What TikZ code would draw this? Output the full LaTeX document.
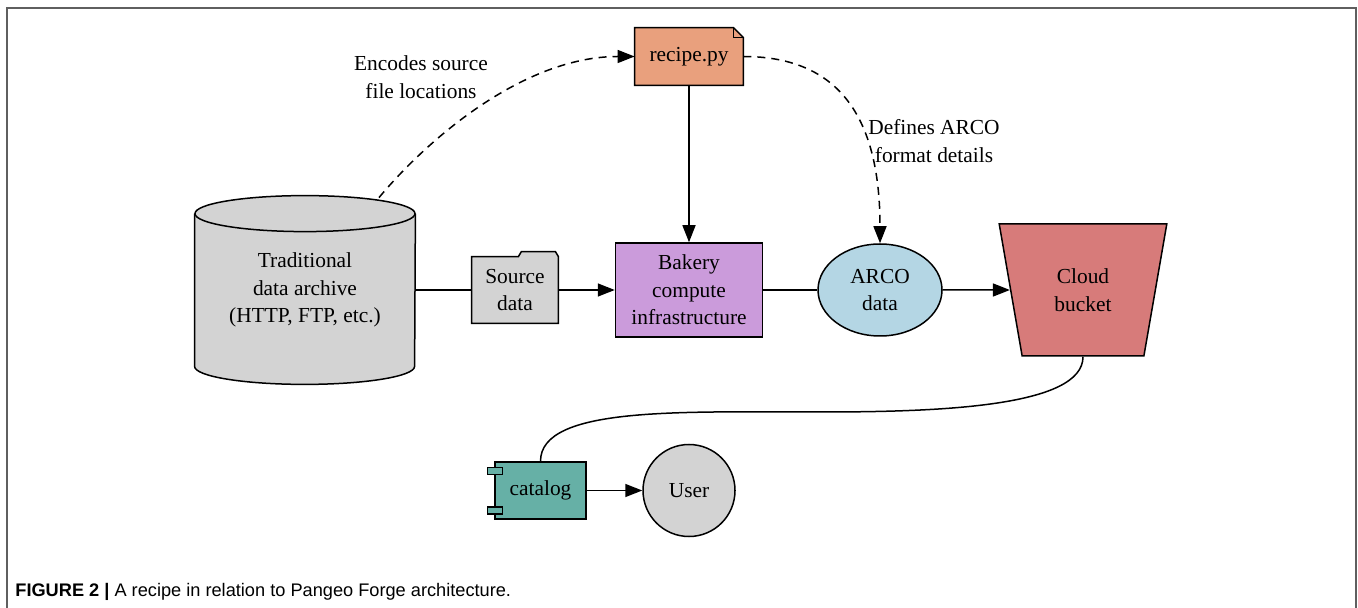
\documentclass[tikz,border=0pt]{standalone}
\usepackage{fontspec}
\setmainfont{Liberation Serif}
\newfontfamily\capfont{Liberation Sans}
\usepackage{tikz}
\usetikzlibrary{shapes.geometric, arrows.meta, positioning, calc, backgrounds}
\definecolor{mydark}{RGB}{0,0,0}
\definecolor{myframe}{RGB}{95,95,95}
\definecolor{hdrsalmon}{RGB}{233,160,125}
\definecolor{hdrplum}{RGB}{203,155,219}
\definecolor{hdrblue}{RGB}{180,214,228}
\definecolor{hdrred}{RGB}{215,123,122}
\definecolor{hdrteal}{RGB}{102,176,166}
\definecolor{hdrgray}{RGB}{211,211,211}
\tikzset{
  lbl/.style={align=center, inner sep=0pt},
  ghost/.style={rectangle, draw=none, align=center, inner sep=0pt},
  purpblock/.style={rectangle, draw=mydark, fill=hdrplum, align=center,
    minimum width=73.5pt, minimum height=47pt, line width=0.75pt},
  tealblock/.style={rectangle, draw=mydark, fill=hdrteal, align=center,
    minimum width=45.5pt, minimum height=28.5pt, line width=0.75pt},
  blueoval/.style={ellipse, draw=mydark, fill=hdrblue, align=center,
    minimum width=62pt, minimum height=46pt, inner sep=0pt, line width=0.75pt},
  graycirc/.style={circle, draw=mydark, fill=hdrgray,
    minimum size=46pt, inner sep=0pt, line width=0.75pt},
  redbucket/.style={trapezium, shape border rotate=180,
    trapezium left angle=75.8, trapezium right angle=75.8,
    trapezium stretches=true, minimum width=84pt, minimum height=66pt,
    draw=mydark, fill=hdrred, align=center, inner sep=0pt, line width=0.75pt},
  outline/.style={draw=mydark, line width=0.75pt},
  arrow/.style={-{Triangle[length=8.5pt, width=6.5pt]}, line width=0.75pt, color=mydark},
  dasharrow/.style={arrow, dash pattern=on 4pt off 3pt},
  line/.style={line width=0.75pt, color=mydark}
}

\begin{document}
\begin{tikzpicture}[x=0.5pt, y=-0.5pt, font=\fontsize{10.7}{13.7}\selectfont]
  \useasboundingbox (0,0) rectangle (1358,608);

  % frame, open at the bottom
  \draw[myframe, line width=1pt] (7,608) -- (7,8) -- (1356,8) -- (1356,608);

  % recipe note
  \node[ghost, minimum width=54pt, minimum height=28.5pt] (recipe) at (689,56.5) {recipe.py};
  \begin{pgfonlayer}{background}
    \filldraw[outline, fill=hdrsalmon] (recipe.south west) -- (recipe.north west)
      -- ($(recipe.north east)+(-10,0)$) -- ($(recipe.north east)+(0,10)$)
      -- (recipe.south east) -- cycle;
    \draw[outline] ($(recipe.north east)+(-10,0)$) -- ($(recipe.north east)+(-10,10)$)
      -- ($(recipe.north east)+(0,10)$);
  \end{pgfonlayer}

  % archive cylinder
  \node[ghost, minimum width=110pt, minimum height=94pt] (archive) at (305,290)
    {Traditional\\data archive\\(HTTP, FTP, etc.)};
  \begin{pgfonlayer}{background}
    \filldraw[outline, fill=hdrgray] ($(archive.north west)+(0,18)$)
      -- ($(archive.south west)+(0,-18)$)
      arc[start angle=180, end angle=360, x radius=55pt, y radius=9pt]
      -- ($(archive.north east)+(0,18)$);
    \filldraw[outline, fill=hdrgray] ($(archive.north)+(0,18)$)
      ellipse [x radius=55pt, y radius=9pt];
  \end{pgfonlayer}

  % source data folder
  \node[ghost, minimum width=43pt, minimum height=33pt] (src) at (515,290) {Source\\data};
  \begin{pgfonlayer}{background}
    \filldraw[outline, fill=hdrgray] (src.south west) -- (src.north west)
      -- ($(src.north east)+(-40,0)$) -- ++(3,-5) -- ++(34,0)
      -- (src.north east) -- (src.south east) -- cycle;
  \end{pgfonlayer}

  % compute, output, storage
  \node[purpblock] (bakery) at (689,290) {Bakery\\compute\\infrastructure};
  \node[blueoval] (arco) at (880,290) {ARCO\\data};
  \node[redbucket] (bucket) at (1083,290) {Cloud\\bucket};

  % catalog component and user
  \node[tealblock] (catalog) at (540.5,490.5) {catalog};
  \filldraw[outline, fill=hdrteal] ($(catalog.north west)+(-7,6)$) rectangle ++(15,7);
  \filldraw[outline, fill=hdrteal] ($(catalog.south west)+(-7,-13)$) rectangle ++(15,7);
  \node[graycirc] (user) at (689,490.5) {User};

  % labels
  \node[lbl] (enclbl) at (421,77) {Encodes source\\file locations};
  \node[lbl] (deflbl) at (934,141) {Defines ARCO\\format details};

  % connectors
  \draw[line] (archive.east) -- (src.west);
  \draw[arrow] (src.east) -- (bakery.west);
  \draw[arrow] (recipe.south) -- (bakery.north);
  \draw[line] (bakery.east) -- (arco.west);
  \draw[arrow] (arco.east) -- (bucket);
  \draw[arrow] (catalog.east) -- (user.west);
  \draw[dasharrow] ($(archive.north)+(74,2)$) .. controls +(50,-60) and +(-110,0) .. (recipe.west);
  \draw[dasharrow] (recipe.east) .. controls +(100,0) and +(0,-120) .. (arco.north);
  \coordinate (mid) at (820,412);
  \draw[line] (bucket.south) .. controls +(0,50) and +(120,0) .. (mid)
    .. controls +(-140,0) and +(0,-55) .. (catalog.north);

  % caption
  \node[anchor=base west, inner sep=0pt, font=\capfont\fontsize{9.1}{11}\selectfont] (caption)
    at (15,596) {\textbf{FIGURE 2 |} A recipe in relation to Pangeo Forge architecture.};
\end{tikzpicture}
\end{document}
